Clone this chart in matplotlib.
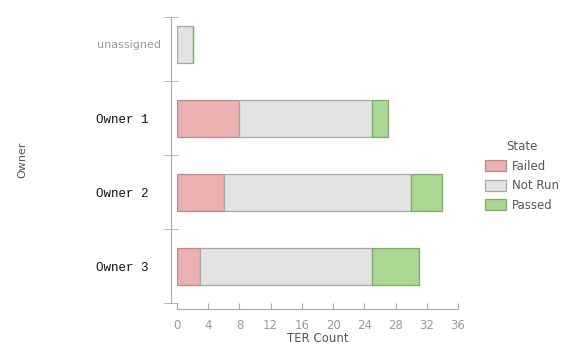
import matplotlib.pyplot as plt
import matplotlib.transforms as mtransforms
import numpy as np
from matplotlib.patches import Patch

owners = ["unassigned", "Owner 1", "Owner 2", "Owner 3"]
failed = [0, 8, 6, 3]
not_run = [2, 17, 24, 22]
passed = [0, 2, 4, 6]
states = ["Failed", "Not Run", "Passed"]
x_ticks = [0, 4, 8, 12, 16, 20, 24, 28, 32, 36]

fills = ["#ebb0b0", "#e3e3e3", "#aad892"]
edges = ["#b88a8a", "#a6a6a6", "#7fa86a"]

fig = plt.figure(figsize=(5.72, 3.47), dpi=100)
ax = fig.add_axes([177 / 572, 1 - 303 / 347, 281 / 572, 286 / 347])

y = np.arange(len(owners))
left = np.zeros(len(owners))
for vals, fc, ec in zip([failed, not_run, passed], fills, edges):
    vals = np.array(vals)
    ax.barh(y, vals, left=left, height=0.5, color=fc, edgecolor=ec, linewidth=0.9)
    left = left + vals

ax.set_xlim(0, 36)
ax.set_ylim(3.5, -0.365)

# spines
for s in ["top", "right"]:
    ax.spines[s].set_visible(False)
ax.spines["left"].set_position(("outward", 4.6))
ax.spines["bottom"].set_position(("outward", 4.3))
ax.spines["left"].set_color("#aaaaaa")
ax.spines["bottom"].set_color("#aaaaaa")

ax.set_xticks(x_ticks)
ax.set_xticklabels([str(t) for t in x_ticks], color="#999999", fontsize=8.5)
ax.tick_params(axis="x", direction="in", length=4, color="#aaaaaa", pad=7)

ax.set_yticks(y)
ax.set_yticklabels(owners)
ax.tick_params(axis="y", which="major", length=0, pad=7)
ax.set_yticks([-0.365, 0.5, 1.5, 2.5, 3.5], minor=True)
ax.tick_params(axis="y", which="minor", direction="inout", length=10, color="#aaaaaa")

shift = mtransforms.ScaledTranslation(-12 / 100, 0, fig.dpi_scale_trans)
for lbl in ax.get_yticklabels():
    if lbl.get_text() == "unassigned":
        lbl.set_color("#999999")
        lbl.set_fontsize(8)
        lbl.set_fontfamily("DejaVu Sans")
    else:
        lbl.set_color("#111111")
        lbl.set_fontsize(9)
        lbl.set_fontfamily("Liberation Mono")
        lbl.set_transform(lbl.get_transform() + shift)

ax.set_xlabel("TER Count", fontsize=8.5, color="#555555", labelpad=0)
fig.text(22 / 572, 1 - 160 / 347, "Owner", rotation=90, fontsize=8,
         color="#555555", ha="center", va="center")

handles = [Patch(facecolor=fc, edgecolor=ec, linewidth=0.9) for fc, ec in zip(fills, edges)]
leg = fig.legend(handles, states, title="State", loc="center left",
                 bbox_to_anchor=(474 / 572, 1 - 176 / 347), frameon=False,
                 fontsize=8.5, title_fontsize=8.5, handlelength=1.8, handleheight=1.1,
                 handletextpad=0.5, labelspacing=0.55)
for t in leg.get_texts():
    t.set_color("#555555")
leg.get_title().set_color("#555555")

fig.savefig("out.png", dpi=100)
